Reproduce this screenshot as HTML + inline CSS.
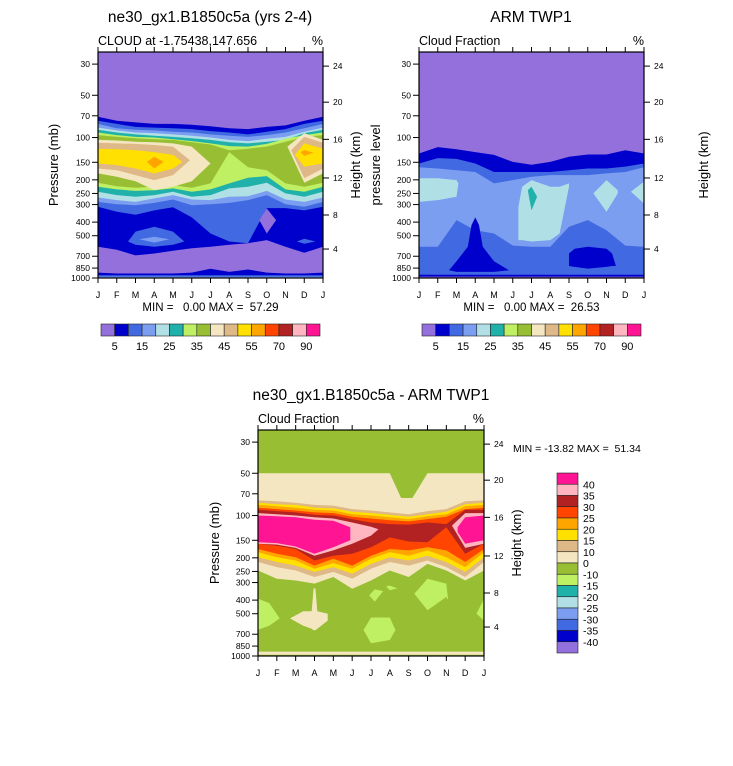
<!DOCTYPE html>
<html><head><meta charset="utf-8">
<style>
html,body{margin:0;padding:0;background:#fff;}
svg{display:block;font-family:"Liberation Sans",Arial,sans-serif;}
.pre{white-space:pre;}
</style></head>
<body>
<svg id="fig" width="733" height="766" viewBox="0 0 733 766" xmlns="http://www.w3.org/2000/svg"></svg>
<script>
// ---------- colour palette ----------
const C = {pu:'#9370DB',db:'#0000CD',rb:'#4169E1',cf:'#7B9EF0',lb:'#B0E0E6',te:'#20B2AA',lg:'#BFEF63',yg:'#98BE33',wh:'#F5E6C2',ta:'#DEB887',go:'#FFE000',or:'#FFA500',orr:'#FF4500',fb:'#B22222',pk:'#FFB6C1',mg:'#FF1493'};
const MONTHS = [0,1,2,3,4,5,6,7,8,9,10,11,12];
const monthLabels = ['J','F','M','A','M','J','J','A','S','O','N','D','J'];
const pressureTicks = [30,50,70,100,150,200,250,300,400,500,700,850,1000];
const heightTickLabels = [24,20,16,12,8,4];
const heightTickPressure = [31,56,103,194,356,622];
const cbarLevels1 = ['5','15','25','35','45','55','70','90'];
const cbarColors1 = ['pu','db','rb','cf','lb','te','lg','yg','wh','ta','go','or','orr','fb','pk','mg'];
const cbarLevels3 = ['40','35','30','25','20','15','10','0','-10','-15','-20','-25','-30','-35','-40'];
const cbarColors3 = ['mg','pk','fb','orr','or','go','ta','wh','yg','lg','te','lb','cf','rb','db','pu'];

// ---------- panel 1 data (model) : pressure (mb) boundaries per month ----------
const p1Bands = [
 {name:'darkblue-layer',c:'db',m:MONTHS,top:[71,76,78,80,80,81,83,86,87,84,82,76,71],bot:[600,630,690,669,640,615,600,580,565,537,600,660,600]},
 {name:'royalblue-layer',c:'rb',m:MONTHS,top:[76,80,84,85,86,87,90,92,95,91,87,80,76],bot:[311,337,355,330,314,370,482,550,565,318,318,330,311]},
 {name:'royalblue-blob',c:'rb',m:[1.6,2,3,4,4.6],top:[550,467,432,467,550],bot:[550,580,600,580,550]},
 {name:'cornflower-blob',c:'cf',m:[2.2,3,3.8],top:[530,508,530],bot:[530,560,530]},
 {name:'royalblue-blob-dec',c:'rb',m:[10.6,11,11.6],top:[550,525,550],bot:[550,570,550]},
 {name:'purple-diamond',c:'pu',m:[8.6,9,9.5],top:[387,320,387],bot:[387,482,387]},
 {name:'cornflower-layer',c:'cf',m:MONTHS,top:[80,86,88,89,91,92,95,97,99,96,92,86,80],bot:[287,298,303,292,276,303,298,292,279,257,298,311,287]},
 {name:'lightblue-layer',c:'lb',m:MONTHS,top:[85,89,92,93,95,97,100,104,106,102,99,91,85],bot:[267,279,287,271,257,276,279,264,262,240,276,287,267]},
 {name:'teal-layer',c:'te',m:MONTHS,top:[88,92,95,97,99,101,104,108,110,107,104,93,88],bot:[243,257,264,257,243,264,257,230,224,210,250,264,243]},
 {name:'lightgreen-layer',c:'lg',m:MONTHS,top:[92,96,99,100,103,106,110,115,116,111,102,96,92],bot:[224,234,240,237,230,243,234,212,193,188,234,243,224]},
 {name:'yellowgreen-layer',c:'yg',m:MONTHS,top:[96,99,101,103,104,108,112,123,120,116,107,99,96],bot:[210,222,228,224,218,228,212,127,163,171,212,224,210]},
 {name:'wheat-left',c:'wh',m:[0,1,2,3,4,5,6],top:[104,105,107,108,110,116,153],bot:[180,190,205,237,224,205,153]},
 {name:'wheat-right',c:'wh',m:[10.1,11,12],top:[116,93,104],bot:[116,210,180]},
 {name:'tan-left',c:'ta',m:[0,1,2,3,4,4.9],top:[109,110,111,113,116,145],bot:[166,171,185,201,185,145]},
 {name:'tan-right',c:'ta',m:[10.3,11,12],top:[123,99,109],bot:[123,195,166]},
 {name:'gold-left',c:'go',m:[0,1,2,3,4,4.5],top:[120,121,123,127,133,149],bot:[153,157,166,180,166,149]},
 {name:'gold-right',c:'go',m:[10.5,11,12],top:[133,110,120],bot:[133,161,153]},
 {name:'orange-left',c:'or',m:[2.6,3,3.5],top:[149,137,149],bot:[149,166,149]},
 {name:'orange-right',c:'or',m:[10.8,11,11.5],top:[127,123,128],bot:[127,135,128]},
 {name:'darkblue-surface',c:'db',m:MONTHS,top:[915,929,929,929,929,915,860,905,870,915,929,929,915],bot:[1000,1000,1000,1000,1000,1000,1000,1000,1000,1000,1000,1000,1000]},
 {name:'royalblue-surface',c:'rb',m:[0,12],top:[955,955],bot:[1000,1000]},
 {name:'cornflower-surface',c:'cf',m:[0,12],top:[980,980],bot:[995,995]}
];

// ---------- panel 2 data (ARM obs) ----------
const p2Bands = [
 {name:'darkblue-layer',c:'db',m:MONTHS,top:[130,117,121,127,133,149,156,149,137,132,132,123,130],bot:[1000,1000,1000,1000,1000,1000,1000,1000,1000,1000,1000,1000,1000]},
 {name:'royalblue-layer',c:'rb',m:MONTHS,top:[153,140,142,153,176,176,176,176,171,166,166,161,153],bot:[948,948,948,948,948,948,948,948,948,948,948,948,948]},
 {name:'cornflower-layer',c:'cf',m:MONTHS,top:[163,166,171,176,212,201,190,185,185,185,180,176,163],bot:[600,600,387,457,482,588,600,600,432,387,457,588,600]},
 {name:'lightblue-left',c:'lb',m:[0,1,2,2.1],top:[195,195,201,212],bot:[287,279,264,212]},
 {name:'lightblue-mid',c:'lb',m:[5.3,5.5,6,7,7.5,8],top:[311,224,201,224,224,212],bot:[537,537,550,537,482,224]},
 {name:'teal-spike',c:'te',m:[5.8,6,6.3],top:[237,224,264],bot:[237,330,264]},
 {name:'lightblue-right',c:'lb',m:[9.3,10,10.6],top:[250,201,237],bot:[250,337,250]},
 {name:'lightblue-edge',c:'lb',m:[11.3,12],top:[243,206],bot:[243,295]},
 {name:'darkblue-apr',c:'db',m:[1.6,2,2.6,2.8,3,3.2,3.4,4,4.8],top:[880,760,600,420,370,420,600,760,880],bot:[880,905,905,905,905,905,905,905,880]},
 {name:'darkblue-oct',c:'db',m:[8,8.3,9,10,10.3,10.5],top:[669,620,600,620,669,822],bot:[822,833,857,833,822,822]},
 {name:'purple-surface',c:'pu',m:[0,12],top:[978,978],bot:[1000,1000]}
];

// ---------- panel 3 data (difference) ----------
const p3Bands = [
 {name:'wheat-layer',c:'wh',m:MONTHS,top:[50,50,50,50,50,50,50,50,50,50,50,50,50],bot:[246,282,290,305,274,332,290,246,274,221,246,290,246]},
 {name:'tan-layer',c:'ta',m:MONTHS,top:[78,79,81,84,85,90,92,95,98,93,90,79,78],bot:[214,233,246,274,252,282,239,214,227,209,233,274,214]},
 {name:'gold-layer',c:'go',m:MONTHS,top:[81,83,84,88,89,94,96,99,102,98,94,83,81],bot:[198,214,227,252,233,260,221,198,209,193,214,252,198]},
 {name:'orange-layer',c:'or',m:MONTHS,top:[84,86,88,91,92,98,100,103,106,101,98,86,84],bot:[182,198,209,239,218,239,203,182,193,177,198,233,182]},
 {name:'orangered-layer',c:'orr',m:MONTHS,top:[88,90,92,95,96,102,105,108,110,106,102,90,88],bot:[173,187,198,227,203,227,193,173,177,168,177,214,173]},
 {name:'firebrick-layer',c:'fb',m:MONTHS,top:[91,93,95,99,100,106,112,115,116,112,115,91,91],bot:[159,164,173,209,193,187,168,143,153,155,121,187,159]},
 {name:'pink-left',c:'pk',m:[0,1,2,3,4,5,6,6.4],top:[96,98,100,103,105,112,120,125],bot:[159,161,170,193,177,159,139,125]},
 {name:'magenta-left',c:'mg',m:[0,1,2,3,4,4.9],top:[100,101,103,107,109,121],bot:[155,157,166,187,168,150]},
 {name:'pink-right',c:'pk',m:[10.3,11,12],top:[118,96,96],bot:[118,170,159]},
 {name:'magenta-right',c:'mg',m:[10.6,11,12],top:[121,103,100],bot:[131,159,150]},
 {name:'yellowgreen-notch',c:'yg',m:[7,7.6,8.2,9],top:[45,45,45,45],bot:[50,75,75,50]},
 {name:'lightgreen-jan',c:'lg',m:[0,0.6,1.15],top:[390,420,540],bot:[650,610,540]},
 {name:'lightgreen-jul-low',c:'lg',m:[5.6,6,7,7.3],top:[653,532,532,653],bot:[653,812,769,653]},
 {name:'lightgreen-jul-mid',c:'lg',m:[5.9,6.2,6.65],top:[370,335,345],bot:[370,410,345]},
 {name:'lightgreen-aug',c:'lg',m:[6.8,7,7.4],top:[320,315,330],bot:[320,340,330]},
 {name:'lightgreen-oct',c:'lg',m:[8.3,9,10,10.1],top:[360,282,305,400],bot:[360,472,380,400]},
 {name:'lightgreen-edge',c:'lg',m:[11.6,12],top:[500,390],bot:[500,560]},
 {name:'wheat-apr-blob',c:'wh',m:[1.7,2.4,2.85,2.95,3.05,3.15,3.7],top:[540,480,480,330,330,480,500],bot:[540,610,640,655,655,640,560]},
 {name:'wheat-surface',c:'wh',m:[0,12],top:[930,930],bot:[980,980]}
];

const NS='http://www.w3.org/2000/svg';
const svg=document.getElementById('fig');
function mk(tag,attrs,parent){const e=document.createElementNS(NS,tag);for(const k in attrs)e.setAttribute(k,attrs[k]);(parent||svg).appendChild(e);return e;}
function txt(s,attrs,parent){const e=mk('text',attrs,parent);e.textContent=s;return e;}

function panel(id,X,Y,W,H,bg,bands,opt){
  const g=mk('g',{});
  
  
  const k=H/Math.log(1000/24.6);
  const xs=m=>X+m*W/12;
  const ys=p=>Y+H-k*Math.log(1000/p);
  const clip=mk('clipPath',{id:id+'-clip'},g);
  mk('rect',{x:X,y:Y,width:W,height:H},clip);
  const plot=mk('g',{'clip-path':'url(#'+id+'-clip)'},g);
  const bgr=mk('rect',{x:X,y:Y,width:W,height:H,fill:C[bg]},plot);
  
  
  bands.forEach(b=>{
    let pts=[];
    for(let i=0;i<b.m.length;i++)pts.push(xs(b.m[i]).toFixed(1)+','+ys(b.top[i]).toFixed(1));
    for(let i=b.m.length-1;i>=0;i--)pts.push(xs(b.m[i]).toFixed(1)+','+ys(b.bot[i]).toFixed(1));
    const poly=mk('polygon',{points:pts.join(' '),fill:C[b.c]},plot);
    
    
  });
  const fr=mk('rect',{x:X,y:Y,width:W,height:H,fill:'none',stroke:'#000','stroke-width':1.2},g);
  
  
  MONTHS.forEach((m,i)=>{
    const x=xs(m);
    mk('line',{x1:x,x2:x,y1:Y,y2:Y-5,stroke:'#000','stroke-width':1},g);
    mk('line',{x1:x,x2:x,y1:Y+H,y2:Y+H+5,stroke:'#000','stroke-width':1},g);
    const t=txt(monthLabels[i],{x:x,y:Y+H+20,'font-size':9,'text-anchor':'middle'},g);
    
    
  });
  pressureTicks.forEach(p=>{
    const y=ys(p);
    mk('line',{x1:X-6,x2:X,y1:y,y2:y,stroke:'#000','stroke-width':1},g);
    const t=txt(String(p),{x:X-8,y:y+3,'font-size':8.5,'text-anchor':'end'},g);
    
    
  });
  heightTickPressure.forEach((p,i)=>{
    const y=ys(p);
    mk('line',{x1:X+W,x2:X+W+6,y1:y,y2:y,stroke:'#000','stroke-width':1},g);
    const t=txt(String(heightTickLabels[i]),{x:X+W+10,y:y+3,'font-size':8.5},g);
    
    
  });
  const ti=txt(opt.title,{x:opt.tx,y:Y-30,'font-size':15.5,'text-anchor':'middle'},g);
  
  
  const st=txt(opt.sub,{x:X,y:Y-7,'font-size':12.5},g);
  
  
  const pc=txt('%',{x:X+W,y:Y-7,'font-size':12.5,'text-anchor':'end'},g);
  
  
  const ly=Y+H/2;
  const la=txt(opt.ylab,{x:0,y:0,'font-size':13,'text-anchor':'middle',transform:'translate('+opt.ylx+','+ly+') rotate(-90)'},g);
  
  
  const ra=txt('Height (km)',{x:0,y:0,'font-size':13,'text-anchor':'middle',transform:'translate('+opt.yrx+','+ly+') rotate(-90)'},g);
  
  
  if(opt.minmax){
    const mm=txt(opt.minmax,{x:X+W/2,y:Y+H+33,'font-size':11.5,'text-anchor':'middle','class':'pre'},g);
    
    
  }
}

panel('model-panel',98,52,225,226,'pu',p1Bands,{title:'ne30_gx1.B1850c5a (yrs 2-4)',tx:210,sub:'CLOUD at -1.75438,147.656',ylab:'Pressure (mb)',ylx:58,yrx:360,minmax:'MIN =   0.00 MAX =  57.29'});
panel('obs-panel',419,52,225,226,'pu',p2Bands,{title:'ARM TWP1',tx:531,sub:'Cloud Fraction',ylab:'pressure level',ylx:380,yrx:708,minmax:'MIN =   0.00 MAX =  26.53'});
panel('diff-panel',258,430,226,226,'yg',p3Bands,{title:'ne30_gx1.B1850c5a - ARM TWP1',tx:371,sub:'Cloud Fraction',ylab:'Pressure (mb)',ylx:219,yrx:521});

function hbar(id,X,Y,W,H){
  const g=mk('g',{});
  
  
  const bw=W/cbarColors1.length;
  cbarColors1.forEach((c,i)=>{
    const r=mk('rect',{x:X+i*bw,y:Y,width:bw,height:H,fill:C[c],stroke:'#222','stroke-width':0.6},g);
    
    
  });
  cbarLevels1.forEach((l,i)=>{
    const t=txt(l,{x:X+(2*i+1)*bw,y:Y+H+14,'font-size':11,'text-anchor':'middle'},g);
    
    
  });
}
hbar('model-colorbar',101,324,219,12);
hbar('obs-colorbar',422,324,219,12);

(function(){
  const g=mk('g',{});
  
  
  const X=557,Y=473,W=21,H=180,bh=H/cbarColors3.length;
  cbarColors3.forEach((c,i)=>{
    const r=mk('rect',{x:X,y:Y+i*bh,width:W,height:bh,fill:C[c],stroke:'#222','stroke-width':0.6},g);
    
    
  });
  cbarLevels3.forEach((l,i)=>{
    const t=txt(l,{x:583,y:Y+(i+1)*bh+4,'font-size':10.5},g);
    
    
  });
  const mm=txt('MIN = -13.82 MAX =  51.34',{x:513,y:452,'font-size':10.5,'class':'pre'},g);
  
  
})();
</script>
</body></html>
